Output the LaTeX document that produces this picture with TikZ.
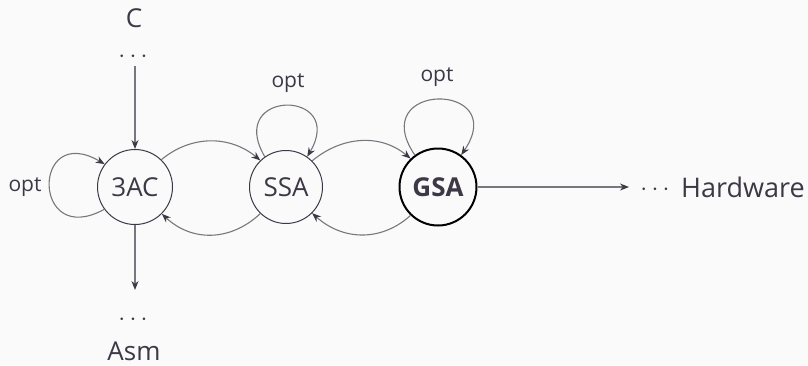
\documentclass[tikz,border=0pt]{standalone}
\usepackage{fontspec}
\setmainfont{Open Sans}
\usetikzlibrary{arrows.meta}
\definecolor{txt}{HTML}{3D3846}
\definecolor{edgec}{HTML}{7A767E}
\definecolor{tipc}{HTML}{3D3846}
\definecolor{bg}{HTML}{FAFAFA}
\begin{document}
\begin{tikzpicture}[x=1pt,y=-1pt,
  state/.style={circle, draw=txt, line width=1pt, text=txt, inner sep=0pt,
    font=\fontsize{26}{30}\selectfont},
  lbl/.style={text=txt, inner sep=0pt, font=\fontsize{26}{30}\selectfont},
  optl/.style={text=txt, inner sep=0pt, font=\fontsize{21}{25}\selectfont},
  arr/.style={draw=edgec, line width=1.1pt, -{Stealth[length=9pt,width=7pt,color=tipc]}}]
\fill[bg] (0,0) rectangle (808,365);
\useasboundingbox (0,0) rectangle (808,365);
\node[state, minimum size=75pt] (c3) at (135,187) {3AC};
\node[state, minimum size=73pt] (ssa) at (286,187) {SSA};
\node[state, minimum size=77pt, draw=black, line width=2pt, font=\fontsize{26}{30}\selectfont\bfseries] (gsa) at (438,187) {GSA};
\node[lbl] (cin) at (134,18) {C};
\node[lbl] (cdots) at (133,57) {$\cdots$};
\node[lbl] (adots) at (133,320) {$\cdots$};
\node[lbl] (asm) at (134,351) {Asm};
\node[lbl] (hdots) at (655,190) {$\cdots$};
\node[lbl, anchor=west, font=\fontsize{27}{30}\selectfont] (hw) at (681,187) {Hardware};
\coordinate (ctop) at (135,66);
\coordinate (cbot) at (135,290);
\coordinate (hend) at (629,187);
\node[optl] (o1) at (25,187) {opt};
\node[optl] (o2) at (288,83) {opt};
\node[optl] (o3) at (437,77) {opt};
\draw[arr] (ctop) -- (c3.north);
\draw[arr] (c3.south) -- (cbot);
\draw[arr] (gsa.east) -- (hend);
\draw[arr] (c3.216) .. controls +(-73,40) and +(-73,-43) .. (c3.143);
\draw[arr] (ssa.125) .. controls +(-40,-68) and +(40,-68) .. (ssa.55);
\draw[arr] (gsa.126) .. controls +(-50,-74) and +(50,-74) .. (gsa.54);
\draw[arr] (c3.46) .. controls +(30,-25) and +(-30,-25) .. (ssa.134);
\draw[arr] (ssa.226) .. controls +(-30,28) and +(30,28) .. (c3.-45);
\draw[arr] (ssa.45) .. controls +(30,-25) and +(-30,-25) .. (gsa.134);
\draw[arr] (gsa.226) .. controls +(-30,27) and +(30,27) .. (ssa.-45);
\end{tikzpicture}
\end{document}
